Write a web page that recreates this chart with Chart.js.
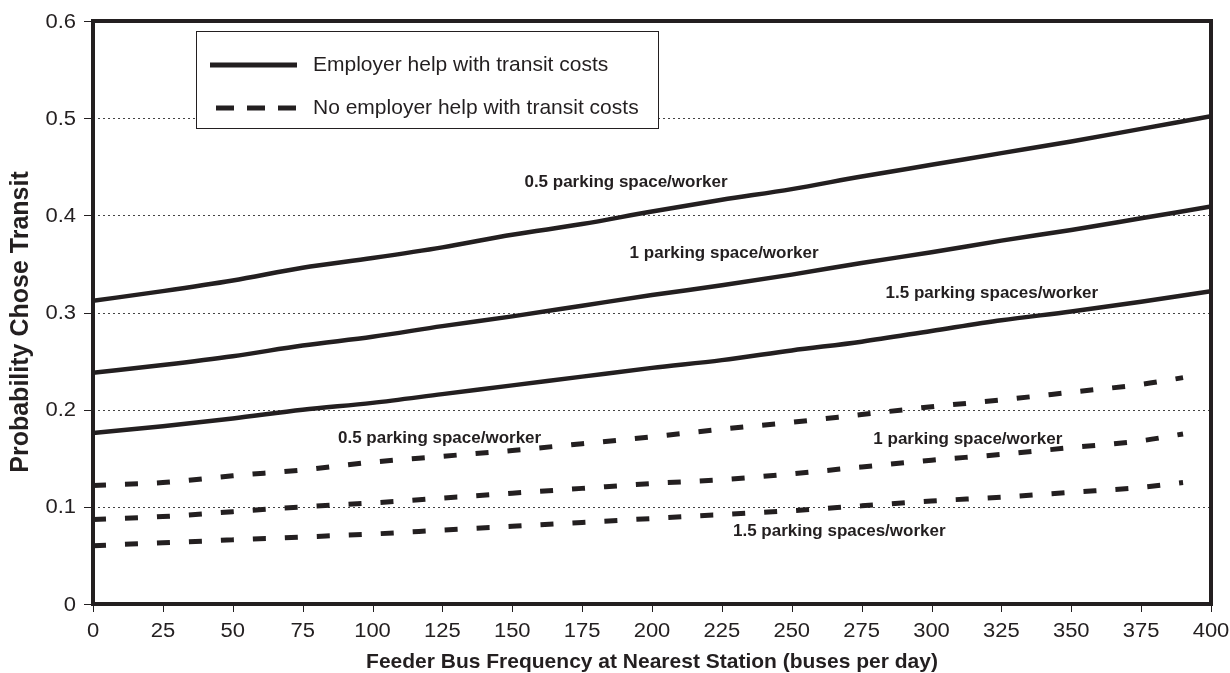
<!DOCTYPE html>
<html lang="en">
<head>
<meta charset="UTF-8">
<title>Probability Chose Transit</title>
<script src="https://cdn.jsdelivr.net/npm/chart.js"></script>
<style>
  body { margin: 0; background: #fff; }
  .chart-container { width: 1230px; height: 673px; position: relative; }
</style>
</head>
<body>
<div class="chart-container">
  <canvas id="transitChart"></canvas>
</div>
<script>
// bus frequency (buses per day)
const busFreq = [0, 25, 50, 75, 100, 125, 150, 175, 200, 225, 250, 275, 300, 325, 350, 375, 400];
const busFreqNoHelp = [0, 25, 50, 75, 100, 125, 150, 175, 200, 225, 250, 275, 300, 325, 350, 375, 390];

// employer help with transit costs
const helpHalf = [0.312, 0.322, 0.333, 0.346, 0.356, 0.367, 0.380, 0.391, 0.404, 0.416, 0.427, 0.440, 0.452, 0.464, 0.476, 0.489, 0.502];
const helpOne = [0.238, 0.246, 0.255, 0.266, 0.275, 0.286, 0.296, 0.307, 0.318, 0.328, 0.339, 0.351, 0.362, 0.374, 0.385, 0.397, 0.409];
const helpOneHalf = [0.176, 0.183, 0.191, 0.200, 0.207, 0.216, 0.225, 0.234, 0.243, 0.251, 0.261, 0.270, 0.281, 0.292, 0.301, 0.311, 0.322];

// no employer help
const noHelpHalf = [0.122, 0.125, 0.132, 0.138, 0.146, 0.152, 0.158, 0.165, 0.172, 0.180, 0.187, 0.195, 0.203, 0.210, 0.218, 0.226, 0.233];
const noHelpOne = [0.087, 0.090, 0.095, 0.100, 0.104, 0.109, 0.114, 0.119, 0.124, 0.128, 0.134, 0.141, 0.148, 0.154, 0.161, 0.168, 0.175];
const noHelpOneHalf = [0.060, 0.063, 0.066, 0.069, 0.072, 0.076, 0.080, 0.084, 0.088, 0.092, 0.096, 0.101, 0.106, 0.110, 0.115, 0.120, 0.125];

const xTickLabels = ['0', '25', '50', '75', '100', '125', '150', '175', '200', '225', '250', '275', '300', '325', '350', '375', '400'];
const yTickValues = [0, 0.1, 0.2, 0.3, 0.4, 0.5, 0.6];
const yTickLabels = ['0', '0.1', '0.2', '0.3', '0.4', '0.5', '0.6'];

const legendLabels = ['Employer help with transit costs', 'No employer help with transit costs'];
const xTitle = 'Feeder Bus Frequency at Nearest Station (buses per day)';
const yTitle = 'Probability Chose Transit';

// curve labels: text, x value, y value
const curveLabels = [
    { text: '0.5 parking space/worker', x: 190.7, y: 0.434 },
    { text: '1 parking space/worker', x: 225.8, y: 0.361 },
    { text: '1.5 parking spaces/worker', x: 321.6, y: 0.320 },
    { text: '0.5 parking space/worker', x: 124, y: 0.171 },
    { text: '1 parking space/worker', x: 313, y: 0.170 },
    { text: '1.5 parking spaces/worker', x: 267, y: 0.075 }
];

const INK = '#231f20';
const FONT = '"Liberation Sans", Arial, sans-serif';

function toPoints(xs, ys) {
    return xs.map((x, i) => ({ x: x, y: ys[i] }));
}

function solidSet(ys) {
    return {
        data: toPoints(busFreq, ys),
        borderColor: INK,
        borderWidth: 4.5,
        pointRadius: 0,
        cubicInterpolationMode: 'monotone',
        fill: false
    };
}

function dashedSet(ys) {
    return {
        data: toPoints(busFreqNoHelp, ys),
        borderColor: INK,
        borderWidth: 5,
        borderDash: [13, 19],
        borderCapStyle: 'butt',
        pointRadius: 0,
        cubicInterpolationMode: 'monotone',
        fill: false
    };
}

// text stretched horizontally by sx
function stretchedText(ctx, text, x, y, sx) {
    ctx.save();
    ctx.translate(x, y);
    ctx.scale(sx, 1);
    ctx.fillText(text, 0, 0);
    ctx.restore();
}

const decorations = {
    id: 'decorations',
    beforeDatasetsDraw(chart) {
        const ctx = chart.ctx;
        const area = chart.chartArea;
        const yScale = chart.scales.y;
        const xScale = chart.scales.x;
        ctx.save();
        // dotted grid lines
        ctx.strokeStyle = '#444';
        ctx.lineWidth = 1;
        ctx.setLineDash([2, 3]);
        yTickValues.slice(1, -1).forEach(v => {
            const py = Math.round(yScale.getPixelForValue(v)) + 0.5;
            ctx.beginPath();
            ctx.moveTo(area.left, py);
            ctx.lineTo(area.right, py);
            ctx.stroke();
        });
        // tick marks
        ctx.setLineDash([]);
        ctx.strokeStyle = INK;
        ctx.lineWidth = 1;
        yTickValues.forEach(v => {
            const py = Math.round(yScale.getPixelForValue(v)) + 0.5;
            ctx.beginPath();
            ctx.moveTo(area.left - 9, py);
            ctx.lineTo(area.left, py);
            ctx.stroke();
        });
        busFreq.forEach(v => {
            const px = Math.round(xScale.getPixelForValue(v)) + 0.5;
            ctx.beginPath();
            ctx.moveTo(px, area.bottom);
            ctx.lineTo(px, area.bottom + 8);
            ctx.stroke();
        });

        // tick labels (slightly wide, as in the original)
        ctx.fillStyle = INK;
        ctx.font = '20px ' + FONT;
        ctx.textBaseline = 'middle';
        ctx.textAlign = 'right';
        yTickValues.forEach((v, i) => {
            stretchedText(ctx, yTickLabels[i], 76, yScale.getPixelForValue(v) + 1, 1.1);
        });
        ctx.textAlign = 'center';
        busFreq.forEach((v, i) => {
            stretchedText(ctx, xTickLabels[i], xScale.getPixelForValue(v), 631, 1.1);
        });
        ctx.restore();
    },
    afterDatasetsDraw(chart) {
        const ctx = chart.ctx;
        const area = chart.chartArea;
        const xScale = chart.scales.x;
        const yScale = chart.scales.y;
        ctx.save();
        // frame
        ctx.strokeStyle = INK;
        ctx.lineWidth = 4;
        ctx.strokeRect(area.left, area.top, area.right - area.left, area.bottom - area.top);

        // curve labels
        ctx.fillStyle = INK;
        ctx.font = 'bold 17px ' + FONT;
        ctx.textAlign = 'center';
        ctx.textBaseline = 'middle';
        curveLabels.forEach(l => {
            ctx.fillText(l.text, xScale.getPixelForValue(l.x), yScale.getPixelForValue(l.y));
        });

        // axis titles
        ctx.font = 'bold 21px ' + FONT;
        ctx.fillText(xTitle, (area.left + area.right) / 2, 662);
        ctx.save();
        ctx.translate(21, 322);
        ctx.rotate(-Math.PI / 2);
        ctx.font = 'bold 25px ' + FONT;
        ctx.fillText(yTitle, 0, 0);
        ctx.restore();

        // legend box
        const bx = 196, by = 31, bw = 462, bh = 97;
        ctx.fillStyle = '#fff';
        ctx.fillRect(bx, by, bw, bh);
        ctx.strokeStyle = INK;
        ctx.lineWidth = 1;
        ctx.strokeRect(bx + 0.5, by + 0.5, bw, bh);

        ctx.lineWidth = 5;
        ctx.beginPath();
        ctx.moveTo(210, 65);
        ctx.lineTo(297, 65);
        ctx.stroke();

        ctx.setLineDash([18, 13]);
        ctx.beginPath();
        ctx.moveTo(216, 108);
        ctx.lineTo(297, 108);
        ctx.stroke();
        ctx.setLineDash([]);

        ctx.fillStyle = INK;
        ctx.font = '21px ' + FONT;
        ctx.textAlign = 'left';
        ctx.fillText(legendLabels[0], 313, 65);
        ctx.fillText(legendLabels[1], 313, 108);
        ctx.restore();
    }
};

new Chart(document.getElementById('transitChart'), {
    type: 'line',
    data: {
        datasets: [
            solidSet(helpHalf),
            solidSet(helpOne),
            solidSet(helpOneHalf),
            dashedSet(noHelpHalf),
            dashedSet(noHelpOne),
            dashedSet(noHelpOneHalf)
        ]
    },
    options: {
        responsive: true,
        maintainAspectRatio: false,
        animation: false,
        layout: { padding: { top: 21, right: 19, left: 0, bottom: 0 } },
        plugins: {
            legend: { display: false },
            tooltip: { enabled: false }
        },
        scales: {
            x: {
                type: 'linear',
                min: 0,
                max: 400,
                afterFit(scale) { scale.height = 69; scale.paddingLeft = 0; scale.paddingRight = 0; },
                afterBuildTicks(scale) {
                    scale.ticks = busFreq.map(v => ({ value: v }));
                },
                grid: { display: false },
                border: { display: false },
                ticks: { display: false }
            },
            y: {
                type: 'linear',
                min: 0,
                max: 0.6,
                afterFit(scale) { scale.width = 93; scale.paddingTop = 0; scale.paddingBottom = 0; },
                afterBuildTicks(scale) {
                    scale.ticks = yTickValues.map(v => ({ value: v }));
                },
                grid: { display: false },
                border: { display: false },
                ticks: { display: false }
            }
        }
    },
    plugins: [decorations]
});
</script>
</body>
</html>
